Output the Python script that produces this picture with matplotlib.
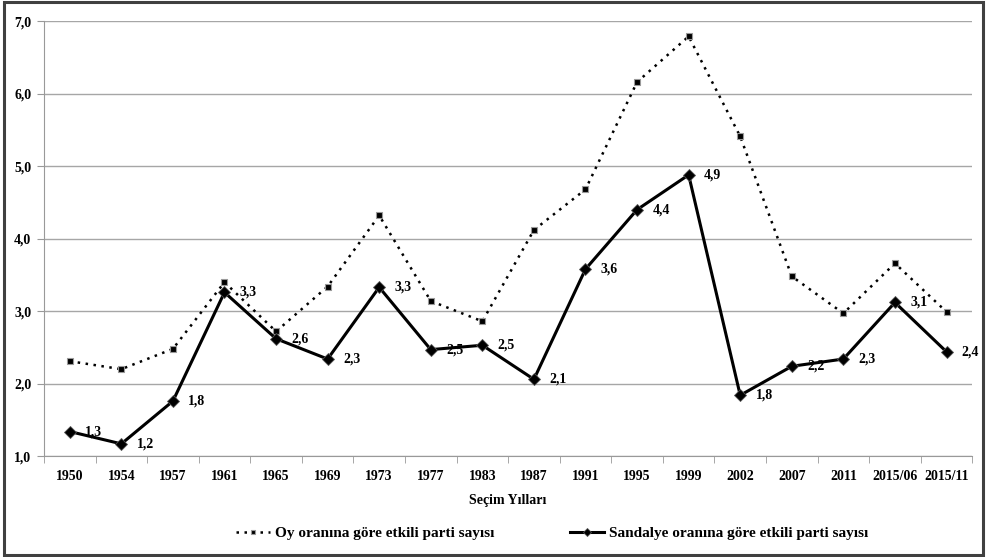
import numpy as np
import matplotlib
matplotlib.use("Agg")
import matplotlib.pyplot as plt
from matplotlib.patches import Rectangle

plt.rcParams['font.family'] = ['Liberation Serif', 'DejaVu Serif']
plt.rcParams['font.weight'] = 'bold'

# veriler
years = ['1950', '1954', '1957', '1961', '1965', '1969', '1973', '1977', '1983',
         '1987', '1991', '1995', '1999', '2002', '2007', '2011', '2015/06', '2015/11']
oy = [2.31, 2.20, 2.48, 3.40, 2.72, 3.34, 4.32, 3.14, 2.86,
      4.12, 4.68, 6.16, 6.79, 5.41, 3.48, 2.97, 3.66, 2.99]
sandalye = [1.34, 1.17, 1.76, 3.26, 2.62, 2.34, 3.33, 2.47, 2.53,
            2.06, 3.58, 4.40, 4.88, 1.84, 2.24, 2.34, 3.12, 2.44]

fig = plt.figure(figsize=(9.86, 5.57), dpi=100)
ax = fig.add_axes([0.0446, 0.181, 0.9415, 0.781])

x = np.arange(len(years))

ax.plot(x, oy, linestyle=(0, (1, 2.2)), color='black', linewidth=1.8,
        marker='s', markersize=4.5, markerfacecolor='black',
        markeredgecolor='#999999', markeredgewidth=0.8,
        label='Oy oranına göre etkili parti sayısı', zorder=3)
ax.plot(x, sandalye, linestyle='-', color='black', linewidth=2.2,
        marker='D', markersize=6.5, markerfacecolor='black',
        markeredgecolor='#555555', markeredgewidth=0.6,
        label='Sandalye oranına göre etkili parti sayısı', zorder=4)

# veri etiketleri
for xi, v in zip(x, sandalye):
    ax.annotate(f'{v:.1f}'.replace('.', ','), (xi, v), xytext=(11, 0),
                textcoords='offset points', ha='left', va='center',
                fontsize=10, fontweight='bold', zorder=5)

ax.set_xlim(-0.5, len(years) - 0.5)
ax.set_ylim(1.0, 7.0)
ax.set_yticks(np.arange(1, 7.5, 1))
ax.set_yticklabels([f'{t:.1f}'.replace('.', ',') for t in np.arange(1, 7.5, 1)],
                   fontsize=10, fontweight='bold')
ax.set_xticks(x)
ax.set_xticklabels(years, fontsize=10, fontweight='bold')
ax.set_xticks(np.arange(-0.5, len(years), 1), minor=True)
ax.tick_params(axis='x', which='major', length=0, pad=10)
ax.tick_params(axis='x', which='minor', length=5, color='#999999', direction='out')
ax.tick_params(axis='y', length=5, color='#999999', direction='out', pad=4)

ax.grid(axis='y', color='#a6a6a6', linewidth=1)
ax.set_axisbelow(True)
for s in ['top', 'right']:
    ax.spines[s].set_visible(False)
for s in ['left', 'bottom']:
    ax.spines[s].set_color('#999999')

ax.set_xlabel('Seçim Yılları', fontsize=10, fontweight='bold', labelpad=8)

leg = fig.legend(loc='center', bbox_to_anchor=(0.56, 0.043), ncol=2, frameon=False,
                 prop={'size': 11, 'weight': 'bold'}, handlelength=2.2,
                 columnspacing=5, handletextpad=0.3, markerscale=0.7)

# dış çerçeve
fig.patches.append(Rectangle((0.004, 0.004), 0.993, 0.992, transform=fig.transFigure,
                             fill=False, edgecolor='#404040', linewidth=2.2))

fig.savefig('out.png', dpi=100)
